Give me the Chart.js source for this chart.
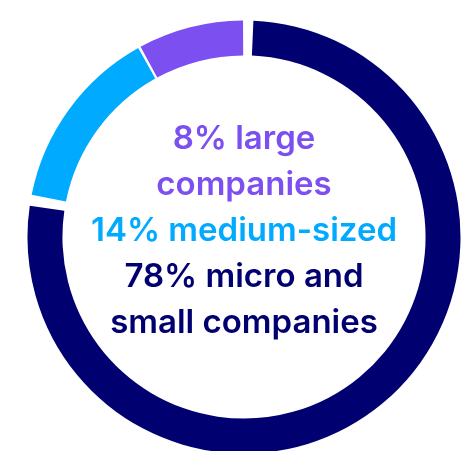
<!DOCTYPE html>
<html>
<head>
<meta charset="utf-8">
<script src="https://cdn.jsdelivr.net/npm/chart.js@4/dist/chart.umd.min.js"></script>
<style>
  html, body { margin: 0; padding: 0; background: #fff; overflow: hidden; }
  body { width: 462px; height: 451px; position: relative; }
  #wrap { position: absolute; left: 0; top: -7px; width: 488px; height: 488px; }
  #label {
    position: absolute; left: 44px; width: 400px; top: 114px;
    text-align: center; font-family: Inter, sans-serif; font-weight: 600;
    font-size: 33px; line-height: 46px; letter-spacing: 0;
  }
  #label div { white-space: nowrap; }
</style>
</head>
<body>
<div id="wrap"><canvas id="donut" width="488" height="488"></canvas></div>
<div id="label">
  <div style="color:#7c4ff0">8% large<br>companies</div>
  <div style="color:#00aaff">14% medium-sized</div>
  <div style="color:#000070">78% micro and<br>small companies</div>
</div>
<script>
const SEGMENTS = ['Micro and small companies', 'Medium-sized companies', 'Large companies'];
const SHARES   = [78, 14, 8];
const COLORS   = ['#000070', '#00aaff', '#7c4ff0'];

new Chart(document.getElementById('donut'), {
  type: 'doughnut',
  data: {
    labels: SEGMENTS,
    datasets: [{
      data:            SHARES,
      backgroundColor: COLORS,
      borderWidth:     0,
      spacing:         7,
    }],
  },
  options: {
    responsive: false,
    animation:  false,
    radius:     213,
    cutout:     '83.6%',
    layout:     { padding: 0 },
    plugins: {
      legend:  { display: false },
      tooltip: { enabled: false },
    },
  },
});
</script>
</body>
</html>
